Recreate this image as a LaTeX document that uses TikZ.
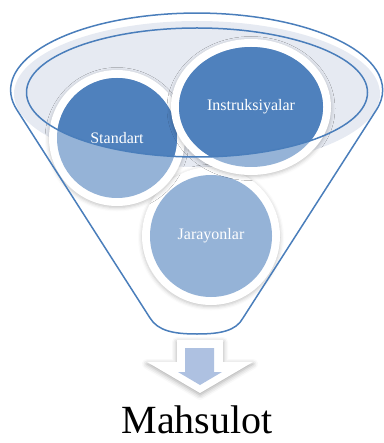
\documentclass[tikz,border=0pt]{standalone}
\usepackage{fontspec}
\setmainfont{Liberation Serif}
\usepackage{tikz}
\usetikzlibrary{shadows.blur}
\definecolor{funnel-line}{HTML}{4A7EBB}
\definecolor{funnel-dark}{HTML}{4F81BD}
\definecolor{funnel-light}{HTML}{95B3D7}
\definecolor{funnel-mouth}{HTML}{E6EAF2}
\definecolor{funnel-arrow}{HTML}{AEC1E1}

\begin{document}
\begin{tikzpicture}[x=1pt, y=-1pt, line cap=round, line join=round,
    ball rim/.style={fill=white, blur shadow={shadow xshift=0pt, shadow yshift=-1.5pt, shadow opacity=25, shadow blur radius=4pt}},
    ball text/.style={text=white, font=\fontsize{16}{18}\selectfont},
    rim line/.style={draw=funnel-line, line width=1.5}]
    % frame
    \useasboundingbox (0,0) rectangle (383,443);

    % inside of the funnel
    \fill[funnel-mouth] (197,94) ellipse [x radius=183, y radius=73];

    % balls
    \foreach \cx/\cy/\rx/\ry/\txt/\name in {211/236/61/61/Jarayonlar/jar, 117/138/60/60/Standart/std, 251/107/72/60/Instruksiyalar/ins}{
        \path[ball rim] (\cx,\cy) ellipse [x radius=\rx+8, y radius=\ry+8];
        \fill[funnel-light] (\cx,\cy) ellipse [x radius=\rx, y radius=\ry];
        \begin{scope}
            \clip (197,92.5) ellipse [x radius=170.5, y radius=64.5];
            \fill[funnel-dark] (\cx,\cy) ellipse [x radius=\rx, y radius=\ry];
        \end{scope}
        \node[ball text] (\name) at (\cx,\cy) {\txt};
    }

    % mouth
    \draw[rim line] (197,92.5) ellipse [x radius=170.5, y radius=64.5];

    % body
    \draw[rim line] (17,110) arc[start angle=165, end angle=375, x radius=186, y radius=77]
        -- (243,318) .. controls (236,331) and (220,334) .. (197,334)
        .. controls (174,334) and (158,331) .. (150,318) -- cycle;

    % arrow
    \fill[white, blur shadow={shadow xshift=0pt, shadow yshift=-2pt, shadow opacity=35, shadow blur radius=5pt}]
        (177,340) -- (223,340) -- (223,362) -- (253,362) -- (200,393) -- (147,362) -- (177,362) -- cycle;
    \fill[funnel-arrow] (185,348) -- (214,348) -- (214,372) -- (222,372) -- (200,385) -- (178,372) -- (185,372) -- cycle;

    % product
    \node[anchor=base, inner sep=1pt, font=\fontsize{40}{44}\selectfont] (product) at (197,433) {Mahsulot};

\end{tikzpicture}
\end{document}
